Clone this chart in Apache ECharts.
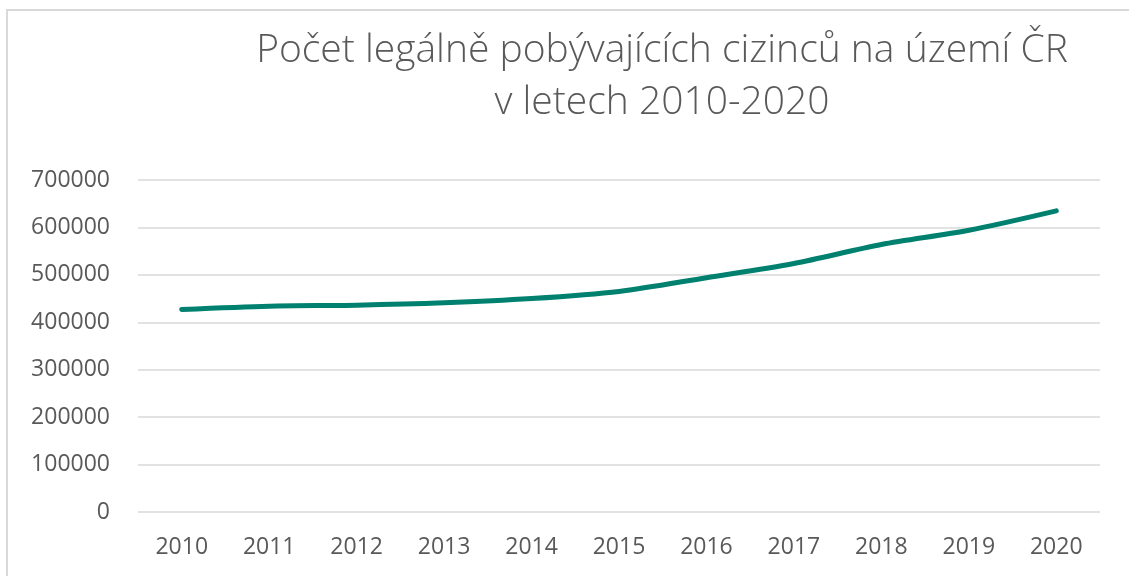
<!DOCTYPE html>
<html>
<head>
<meta charset="utf-8">
<script src="https://cdn.jsdelivr.net/npm/echarts@6/dist/echarts.min.js"></script>
<style>
	html, body { margin: 0; padding: 0; background: #fff; }
	#chart { width: 1129px; height: 576px; }
</style>
</head>
<body>
<div id="chart"></div>
<script>
const years = ['2010', '2011', '2012', '2013', '2014', '2015', '2016', '2017', '2018', '2019', '2020']
const foreigners = [427000, 434000, 436000, 441000, 450000, 465000, 494000, 524000, 564000, 594000, 635000]
const titleLines = ['Počet legálně pobývajících cizinců na území ČR', 'v letech 2010-2020']

const myChart = echarts.init(document.getElementById('chart'))
const option = {
	animation: false,
	graphic: [{
		type: 'rect',
		shape: { x: 7, y: 10, width: 1140, height: 590 },
		style: { fill: 'none', stroke: '#d9d9d9', lineWidth: 2 }
	}],
	title: {
		text: titleLines.join('\n'),
		left: 657,
		textAlign: 'center',
		top: 20,
		textStyle: {
			fontFamily: 'Open Sans',
			fontWeight: 300,
			fontSize: 39,
			lineHeight: 52,
			color: '#595959'
		}
	},
	grid: {
		left: 138,
		right: 29,
		top: 180,
		bottom: 64
	},
	xAxis: {
		type: 'category',
		data: years,
		boundaryGap: true,
		axisLine: { show: false },
		axisTick: { show: false },
		axisLabel: {
			margin: 24,
			fontFamily: 'Open Sans',
			fontSize: 23,
			color: '#595959'
		}
	},
	yAxis: {
		type: 'value',
		min: 0,
		max: 700000,
		interval: 100000,
		axisLabel: {
			margin: 28,
			fontFamily: 'Open Sans',
			fontSize: 23,
			color: '#595959',
			formatter: function (v) { return String(v) }
		},
		splitLine: { lineStyle: { color: '#d9d9d9', width: 1.5 } }
	},
	series: [{
		type: 'line',
		data: foreigners,
		smooth: 0.3,
		showSymbol: false,
		lineStyle: { color: '#00806e', width: 5, cap: 'round' }
	}]
}
myChart.setOption(option)
</script>
</body>
</html>
